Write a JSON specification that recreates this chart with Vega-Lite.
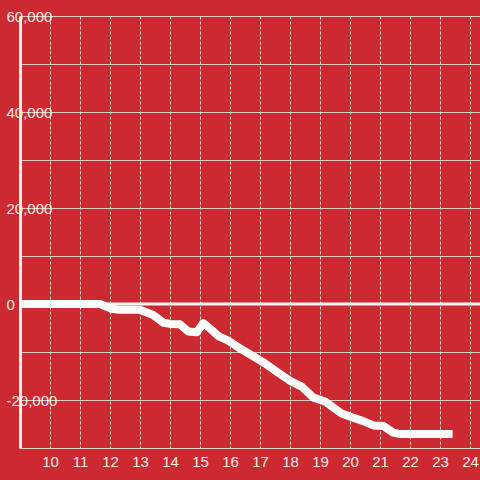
{
  "$schema": "https://vega.github.io/schema/vega-lite/v6.json",
  "width": 460,
  "height": 432,
  "autosize": "none",
  "padding": {"left": 20, "top": 16, "right": 0, "bottom": 32},
  "background": "#cc2a30",
  "config": {
    "view": {"stroke": null},
    "axis": {"labelFont": "Liberation Sans", "labelFontSize": 15, "labelColor": "#f6ecec", "labelFlush": false, "labelOverlap": false, "labelBound": false}
  },
  "layer": [
    {
      "data": {"values": [{"zero": 0}]},
      "mark": {"type": "rule", "color": "#f4f4f4", "strokeWidth": 3},
      "encoding": {
        "y": {
          "field": "zero",
          "type": "quantitative",
          "scale": {"domain": [-30000, 60000], "nice": false, "zero": false},
          "axis": {
            "title": null,
            "orient": "left",
            "values": [-20000, 0, 20000, 40000, 60000],
            "labelExpr": "(datum.value < 0 ? '-' : '') + format(abs(datum.value), ',.0f')",
            "grid": false,
            "ticks": false,
            "tickSize": 0,
            "labelAlign": "left",
            "labelPadding": 14,
            "domain": true,
            "domainColor": "#f0f0f0",
            "domainWidth": 3
          }
        }
      }
    },
    {
      "data": {
        "values": [
          {"t": 9.0, "v": 0},
          {"t": 11.67, "v": 0},
          {"t": 12.05, "v": -1000},
          {"t": 12.3, "v": -1200},
          {"t": 13.0, "v": -1200},
          {"t": 13.44, "v": -2300},
          {"t": 13.78, "v": -3900},
          {"t": 14.0, "v": -4150},
          {"t": 14.33, "v": -4200},
          {"t": 14.61, "v": -5750},
          {"t": 14.89, "v": -5900},
          {"t": 15.11, "v": -4000},
          {"t": 15.33, "v": -5070},
          {"t": 15.61, "v": -6670},
          {"t": 15.94, "v": -7640},
          {"t": 16.33, "v": -9240},
          {"t": 16.83, "v": -11100},
          {"t": 17.17, "v": -12400},
          {"t": 17.56, "v": -14100},
          {"t": 18.0, "v": -16000},
          {"t": 18.39, "v": -17200},
          {"t": 18.78, "v": -19500},
          {"t": 19.17, "v": -20300},
          {"t": 19.72, "v": -22800},
          {"t": 20.11, "v": -23700},
          {"t": 20.44, "v": -24400},
          {"t": 20.78, "v": -25300},
          {"t": 21.11, "v": -25400},
          {"t": 21.44, "v": -26800},
          {"t": 21.67, "v": -27100},
          {"t": 23.42, "v": -27100}
        ]
      },
      "mark": {"type": "line", "color": "#fdfffd", "strokeWidth": 8, "strokeJoin": "round"},
      "encoding": {
        "x": {
          "field": "t",
          "type": "quantitative",
          "scale": {"domain": [9, 24.333], "nice": false, "zero": false},
          "axis": {
            "title": null,
            "values": [10, 11, 12, 13, 14, 15, 16, 17, 18, 19, 20, 21, 22, 23, 24],
            "grid": true,
            "gridColor": "#e2dada",
            "gridDash": [3, 2],
            "gridWidth": 1,
            "ticks": false,
            "tickSize": 0,
            "labelPadding": 6,
            "domain": true,
            "domainColor": "#d9d0d0",
            "domainWidth": 1
          }
        },
        "y": {
          "field": "v",
          "type": "quantitative",
          "scale": {"domain": [-30000, 60000], "nice": false, "zero": false},
          "axis": {
            "title": null,
            "orient": "left",
            "values": [-30000, -20000, -10000, 0, 10000, 20000, 30000, 40000, 50000, 60000],
            "grid": true,
            "gridColor": "#d8cccc",
            "gridWidth": 1,
            "labels": false,
            "ticks": false,
            "domain": false
          }
        }
      }
    }
  ],
  "resolve": {"axis": {"y": "independent"}}
}
